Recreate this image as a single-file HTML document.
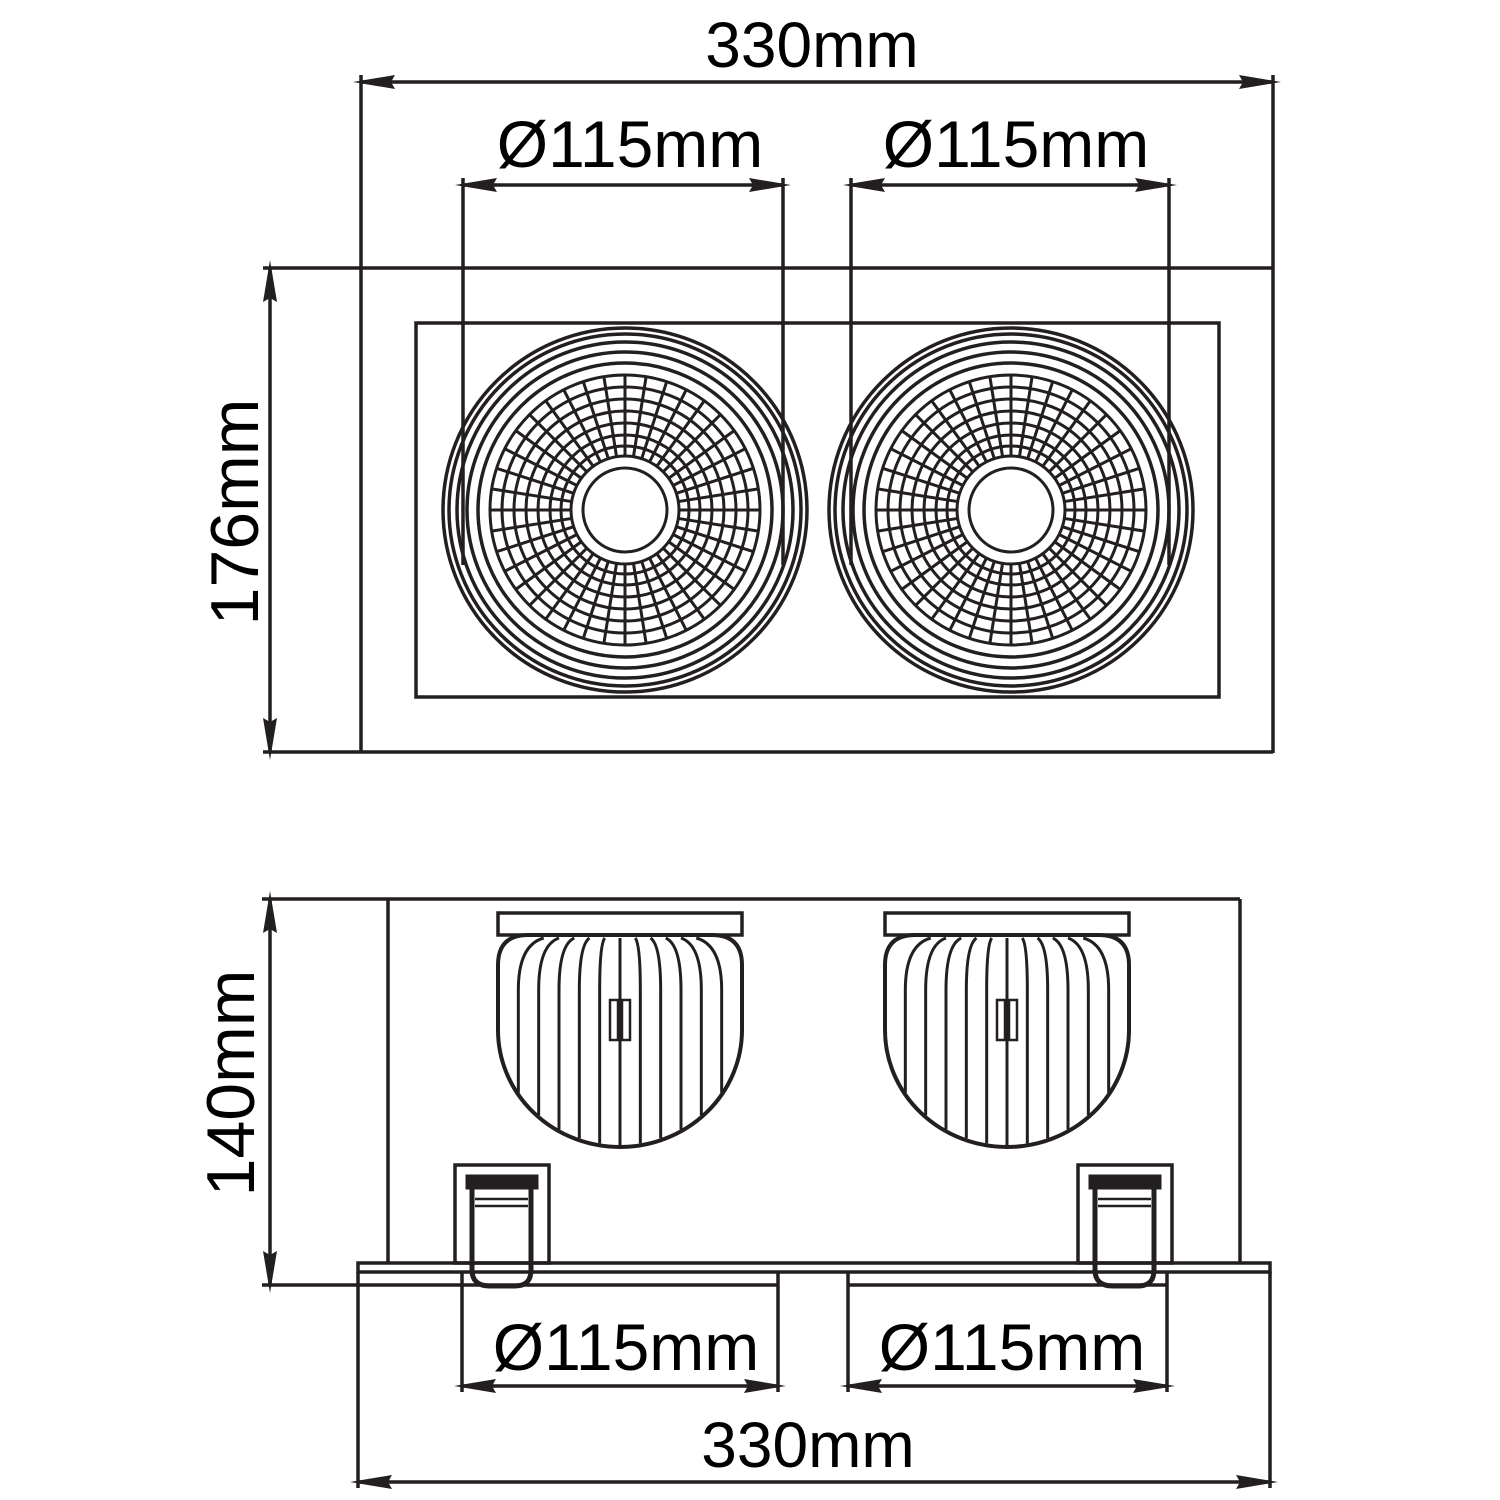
<!DOCTYPE html>
<html><head><meta charset="utf-8"><style>
html,body{margin:0;padding:0;background:#fff;}
svg{display:block}
text{font-family:"Liberation Sans",Arial,sans-serif;fill:#000}
</style></head><body>
<svg id="s" width="1500" height="1500" viewBox="0 0 1500 1500" xmlns="http://www.w3.org/2000/svg">
<defs>
<marker id="a" viewBox="0 0 42 14" refX="34" refY="7" markerWidth="42" markerHeight="14" markerUnits="userSpaceOnUse" orient="auto-start-reverse">
<path d="M0,7 L42,0 L38,7 L42,14 Z" fill="#231f20" transform="translate(42,14) rotate(180)"/>
</marker>
</defs>
<g stroke="#231f20" stroke-width="3.5" fill="none" id="g">
<line x1="361" y1="75" x2="361" y2="753"/>
<line x1="1273" y1="75" x2="1273" y2="753"/>
<line x1="263" y1="268" x2="1273" y2="268"/>
<line x1="263" y1="752" x2="1273" y2="752"/>
<line x1="361" y1="82" x2="1273" y2="82" marker-start="url(#a)" marker-end="url(#a)"/>
<line x1="270" y1="268" x2="270" y2="752" marker-start="url(#a)" marker-end="url(#a)"/>
<rect x="416" y="323" width="803" height="374"/>
<line x1="463" y1="178" x2="463" y2="565"/>
<line x1="783" y1="178" x2="783" y2="565"/>
<line x1="463" y1="185" x2="783" y2="185" marker-start="url(#a)" marker-end="url(#a)"/>
<line x1="851" y1="178" x2="851" y2="565"/>
<line x1="1169" y1="178" x2="1169" y2="565"/>
<line x1="851" y1="185" x2="1169" y2="185" marker-start="url(#a)" marker-end="url(#a)"/>

<line x1="262" y1="899" x2="1240" y2="899"/>
<line x1="388" y1="899" x2="388" y2="1263"/>
<line x1="1240" y1="899" x2="1240" y2="1263"/>
<rect x="358" y="1263" width="912" height="9"/>
<line x1="262" y1="1285" x2="778" y2="1285"/>
<line x1="848" y1="1285" x2="1167" y2="1285"/>
<line x1="270" y1="899" x2="270" y2="1285" marker-start="url(#a)" marker-end="url(#a)"/>
<line x1="358" y1="1272" x2="358" y2="1488"/>
<line x1="1270" y1="1272" x2="1270" y2="1488"/>
<line x1="358" y1="1482" x2="1270" y2="1482" marker-start="url(#a)" marker-end="url(#a)"/>
<line x1="462" y1="1272" x2="462" y2="1392"/>
<line x1="778" y1="1272" x2="778" y2="1392"/>
<line x1="462" y1="1386" x2="778" y2="1386" marker-start="url(#a)" marker-end="url(#a)"/>
<line x1="848" y1="1272" x2="848" y2="1392"/>
<line x1="1167" y1="1272" x2="1167" y2="1392"/>
<line x1="848" y1="1386" x2="1167" y2="1386" marker-start="url(#a)" marker-end="url(#a)"/>
</g>
<text x="812" y="67" font-size="64" text-anchor="middle">330mm</text>
<text x="630" y="167" font-size="66" text-anchor="middle">Ø115mm</text>
<text x="1016" y="167" font-size="66" text-anchor="middle">Ø115mm</text>
<text transform="translate(258,512) rotate(-90)" font-size="68" text-anchor="middle">176mm</text>
<text transform="translate(254,1083) rotate(-90)" font-size="68" text-anchor="middle">140mm</text>
<text x="626" y="1370" font-size="66" text-anchor="middle">Ø115mm</text>
<text x="1012" y="1370" font-size="66" text-anchor="middle">Ø115mm</text>
<text x="808" y="1467" font-size="64" text-anchor="middle">330mm</text>
</svg>
<script>
var NS="http://www.w3.org/2000/svg",g=document.getElementById("g");
function el(t,a){var e=document.createElementNS(NS,t);for(var k in a)e.setAttribute(k,a[k]);g.appendChild(e);return e;}
function lamp(cx,cy){
 [182,176,168,158,147].forEach(function(r){el("circle",{cx:cx,cy:cy,r:r});});
 [135,123,111,99,87,75,64,54,42].forEach(function(r){el("circle",{cx:cx,cy:cy,r:r,"stroke-width":3});});
 for(var i=0;i<40;i++){var t=i*Math.PI*2/40;
  el("line",{x1:cx+54*Math.cos(t),y1:cy+54*Math.sin(t),x2:cx+135*Math.cos(t),y2:cy+135*Math.sin(t),"stroke-width":3});}
}
lamp(625,510);lamp(1011,510);
function side(x0){
 var w=244,cx=x0+w/2,r=w/2;
 el("rect",{x:x0,y:913,width:w,height:22});
 el("path",{d:"M"+x0+",1030 L"+x0+",965 Q"+x0+",935 "+(x0+30)+",935 L"+(x0+w-30)+",935 Q"+(x0+w)+",935 "+(x0+w)+",965 L"+(x0+w)+",1030 A"+r+","+(r-5)+" 0 0 1 "+x0+",1030 Z","stroke-width":4});
 for(var i=1;i<12;i++){var x=x0+i*w/12;var dx=x-cx;var yb=1030+Math.sqrt(Math.max(0,r*r-dx*dx))*(r-5)/r-2;
  el("path",{d:"M"+(cx+dx*0.75)+",938 Q"+x+",945 "+x+",990 L"+x+","+yb,"stroke-width":3});}
 el("rect",{x:cx-10,y:1000,width:8,height:40,"stroke-width":2.5});
 el("rect",{x:cx+2,y:1000,width:8,height:40,"stroke-width":2.5});
}
side(498);side(885);
function clip(x0){
 el("rect",{x:x0,y:1165,width:94,height:98});
 el("rect",{x:x0+12,y:1176,width:70,height:12,fill:"#231f20","stroke-width":3});
 el("path",{d:"M"+(x0+17)+",1187 L"+(x0+17)+",1270 Q"+(x0+17)+",1286 "+(x0+35)+",1286 L"+(x0+60)+",1286 Q"+(x0+76)+",1286 "+(x0+76)+",1270 L"+(x0+76)+",1187","stroke-width":5});
 el("line",{x1:x0+20,y1:1199,x2:x0+73,y2:1199,"stroke-width":2.5});
 el("line",{x1:x0+20,y1:1206,x2:x0+73,y2:1206,"stroke-width":2.5});
}
clip(455);clip(1078);
</script>
</body></html>
